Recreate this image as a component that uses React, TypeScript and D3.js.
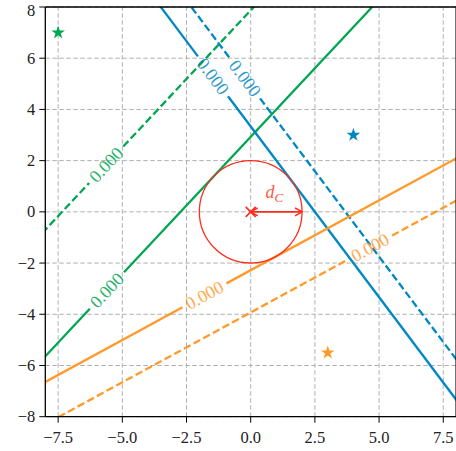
import React from "react";
import * as d3 from "d3";

// ---- data ----
const xTicks = [-7.5, -5.0, -2.5, 0.0, 2.5, 5.0, 7.5];
const yTicks = [-8, -6, -4, -2, 0, 2, 4, 6, 8];
const lineNames = ["green", "blue", "orange"];
const lineColors = ["#00a651", "#0088c2", "#ff9a2a"];
const lineSlopes = [1.0715, -1.3333, 0.5455];
const solidIntercepts = [2.931, 3.333, -2.278];
const dashedIntercepts = [7.87, 4.917, -3.929];
const solidLabelX = [-5.6, -1.47, -1.8];
const dashedLabelX = [-5.63, -0.22, 4.65];
const contourLabel = "0.000";
const starX = [-7.5, 4, 3];
const starY = [7, 3, -5.5];
const circleCenter = [0, 0];
const circleRadius = 2;

const W = 456;
const H = 451;
const FONT = "'Liberation Serif', 'DejaVu Serif', serif";
const RED = "#ff2b1c";

export default function App() {
  const x = d3.scaleLinear().domain([-8, 8]).range([45.3, 456.1]);
  const y = d3.scaleLinear().domain([-8, 8]).range([416.7, 7.0]);
  const [x0, x1] = x.range();
  const [yb, yt] = y.range();

  const fmtX = (v: number) => (v < 0 ? "\u2212" : "") + Math.abs(v).toFixed(1);
  const fmtY = (v: number) => (v < 0 ? "\u2212" : "") + Math.abs(v).toFixed(0);

  const GAP = 25;
  const makeLine = (slope: number, intercept: number, labelX: number) => {
    const ax = -9, bx = 9;
    const p0 = [x(ax), y(slope * ax + intercept)];
    const p1 = [x(bx), y(slope * bx + intercept)];
    const c = [x(labelX), y(slope * labelX + intercept)];
    const dx = p1[0] - p0[0], dy = p1[1] - p0[1];
    const len = Math.hypot(dx, dy);
    const u = [dx / len, dy / len];
    const segA = [p0, [c[0] - GAP * u[0], c[1] - GAP * u[1]]];
    const segB = [[c[0] + GAP * u[0], c[1] + GAP * u[1]], p1];
    const angle = (Math.atan2(dy, dx) * 180) / Math.PI;
    return { segA, segB, c, angle };
  };

  const cx = x(circleCenter[0]);
  const cy = y(circleCenter[1]);
  const rx = x(circleRadius) - x(0);
  const ry = y(0) - y(circleRadius);
  const arrowEnd = x(circleRadius);
  const star = d3.symbol().type(d3.symbolStar).size(58)();

  return (
    <svg
      width={W}
      height={H}
      style={{ position: "absolute", left: 0, top: 0, background: "#fff" }}
    >
      <defs>
        <clipPath id="plotclip">
          <rect x={x0} y={yt} width={x1 - x0} height={yb - yt} />
        </clipPath>
      </defs>
      {/* grid */}
      <g stroke="#b0b0b0" strokeWidth={1} strokeDasharray="4.5,2.5">
        {xTicks.map((t) => (
          <line key={"gx" + t} x1={x(t)} x2={x(t)} y1={yb} y2={yt} />
        ))}
        {yTicks.map((t) => (
          <line key={"gy" + t} x1={x0} x2={x1} y1={y(t)} y2={y(t)} />
        ))}
      </g>
      <g clipPath="url(#plotclip)">
        {lineNames.map((name, i) => {
          const s = makeLine(lineSlopes[i], solidIntercepts[i], solidLabelX[i]);
          const d = makeLine(lineSlopes[i], dashedIntercepts[i], dashedLabelX[i]);
          const col = lineColors[i];
          return (
            <g key={name}>
              {[s.segA, s.segB].map((seg, k) => (
                <line
                  key={"s" + k}
                  x1={seg[0][0]}
                  y1={seg[0][1]}
                  x2={seg[1][0]}
                  y2={seg[1][1]}
                  stroke={col}
                  strokeWidth={2.3}
                />
              ))}
              {[d.segA, d.segB].map((seg, k) => (
                <line
                  key={"d" + k}
                  x1={seg[0][0]}
                  y1={seg[0][1]}
                  x2={seg[1][0]}
                  y2={seg[1][1]}
                  stroke={col}
                  strokeWidth={2.3}
                  strokeDasharray="7.6,3.4"
                />
              ))}
              {[s, d].map((l, k) => (
                <text
                  key={"t" + k}
                  transform={`translate(${l.c[0]},${l.c[1]}) rotate(${l.angle})`}
                  textAnchor="middle"
                  dominantBaseline="central"
                  fontFamily={FONT}
                  fontSize={18}
                  fill={col}
                  opacity={0.85}
                >
                  {contourLabel}
                </text>
              ))}
            </g>
          );
        })}
        {/* circle */}
        <ellipse cx={cx} cy={cy} rx={rx} ry={ry} fill="none" stroke={RED} strokeWidth={1.3} />
        {/* arrow */}
        <g stroke={RED} strokeWidth={1.6} fill="none">
          <line x1={cx} y1={cy} x2={arrowEnd} y2={cy} />
          <path d={`M${cx + 7},${cy - 4} L${cx},${cy} L${cx + 7},${cy + 4}`} />
          <path d={`M${arrowEnd - 7},${cy - 4} L${arrowEnd},${cy} L${arrowEnd - 7},${cy + 4}`} />
          <path d={`M${cx - 5},${cy - 5} L${cx + 5},${cy + 5} M${cx - 5},${cy + 5} L${cx + 5},${cy - 5}`} />
        </g>
        <text
          x={x(1.0) - 2}
          y={y(0.55)}
          fontFamily={FONT}
          fontStyle="italic"
          fontSize={18}
          fill="#ff5a48"
          textAnchor="middle"
        >
          d
          <tspan fontSize={13} dy={4}>
            C
          </tspan>
        </text>
        {/* stars */}
        {starX.map((sx, i) => (
          <path
            key={"star" + i}
            d={star || ""}
            transform={`translate(${x(sx)},${y(starY[i])})`}
            fill={lineColors[i]}
          />
        ))}
      </g>
      {/* spines */}
      <g stroke="#000" strokeWidth={1.3}>
        <line x1={x0} x2={x0} y1={yb} y2={yt} />
        <line x1={x0} x2={x1} y1={yb} y2={yb} />
        <line x1={x0} x2={x1} y1={yt} y2={yt} />
        <line x1={x1} x2={x1} y1={yb} y2={yt} />
      </g>
      {/* ticks */}
      <g stroke="#000" strokeWidth={1}>
        {xTicks.map((t) => (
          <line key={"tx" + t} x1={x(t)} x2={x(t)} y1={yb} y2={yb + 6} />
        ))}
        {yTicks.map((t) => (
          <line key={"ty" + t} x1={x0 - 6} x2={x0} y1={y(t)} y2={y(t)} />
        ))}
      </g>
      <g fontFamily={FONT} fontSize={16.5} fill="#222">
        {xTicks.map((t) => (
          <text key={"lx" + t} x={x(t)} y={yb + 26} textAnchor="middle">
            {fmtX(t)}
          </text>
        ))}
        {yTicks.map((t) => (
          <text key={"ly" + t} x={x0 - 10} y={Math.max(y(t) + 5.5, 16)} textAnchor="end">
            {fmtY(t)}
          </text>
        ))}
      </g>
    </svg>
  );
}
